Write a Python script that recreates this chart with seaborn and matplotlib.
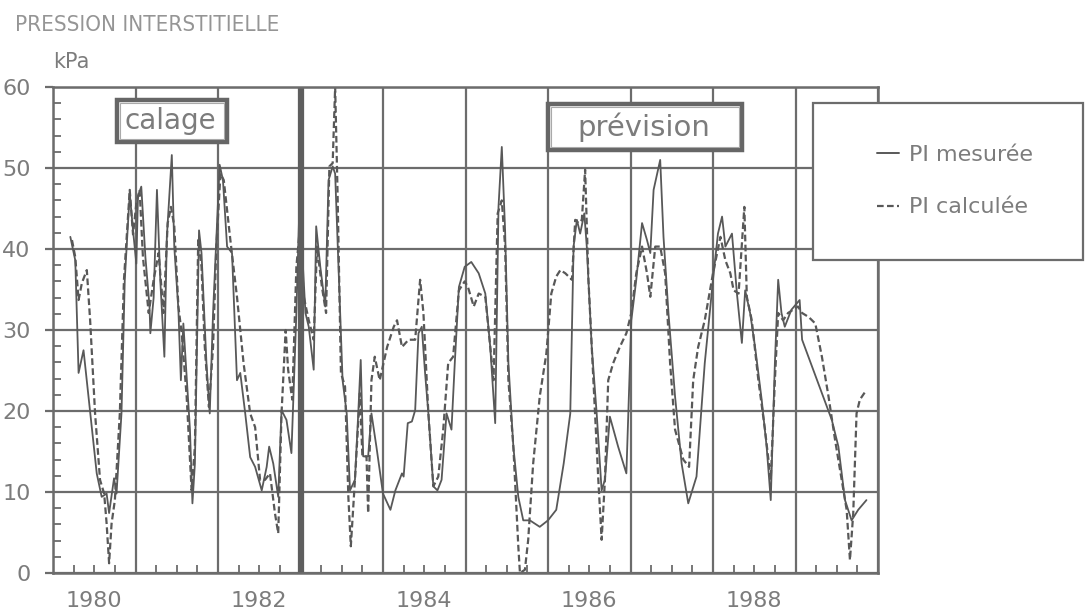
import numpy as np
import seaborn as sns
import matplotlib.pyplot as plt
from matplotlib.patches import Rectangle
from matplotlib.lines import Line2D

# PI mesurée (kPa), dates en années décimales
annees_mesure = [
    1980.21, 1980.27, 1980.31, 1980.37, 1980.53, 1980.59, 1980.65, 1980.68, 1980.74, 1980.77,
    1980.83, 1980.87, 1980.93, 1980.97, 1981.01, 1981.03, 1981.07, 1981.12, 1981.17, 1981.18,
    1981.22, 1981.26, 1981.30, 1981.35, 1981.38, 1981.44, 1981.47, 1981.52, 1981.55, 1981.58,
    1981.66, 1981.69, 1981.72, 1981.77, 1981.80, 1981.86, 1981.90, 1981.94, 1982.02, 1982.06,
    1982.11, 1982.17, 1982.23, 1982.27, 1982.33, 1982.39, 1982.45, 1982.53, 1982.59, 1982.62,
    1982.67, 1982.73, 1982.77, 1982.83, 1982.89, 1982.95, 1982.99, 1983.03, 1983.06, 1983.10,
    1983.16, 1983.19, 1983.24, 1983.30, 1983.34, 1983.39, 1983.42, 1983.51, 1983.56, 1983.60,
    1983.66, 1983.70, 1983.73, 1983.76, 1983.82, 1983.86, 1983.92, 1984.00, 1984.09, 1984.15,
    1984.23, 1984.25, 1984.30, 1984.35, 1984.39, 1984.43, 1984.47, 1984.51, 1984.55, 1984.61,
    1984.66, 1984.71, 1984.77, 1984.83, 1984.87, 1984.92, 1984.99, 1985.07, 1985.16, 1985.24,
    1985.30, 1985.36, 1985.40, 1985.44, 1985.48, 1985.52, 1985.58, 1985.64, 1985.70, 1985.78,
    1985.90, 1986.00, 1986.10, 1986.19, 1986.27, 1986.31, 1986.35, 1986.39, 1986.44, 1986.47,
    1986.53, 1986.59, 1986.65, 1986.69, 1986.75, 1986.85, 1986.95, 1987.01, 1987.07, 1987.14,
    1987.20, 1987.24, 1987.28, 1987.36, 1987.40, 1987.46, 1987.54, 1987.62, 1987.70, 1987.80,
    1987.90, 1988.00, 1988.06, 1988.11, 1988.15, 1988.23, 1988.29, 1988.35, 1988.39, 1988.45,
    1988.51, 1988.59, 1988.65, 1988.70, 1988.75, 1988.79, 1988.83, 1988.87, 1988.95, 1989.05,
    1989.08, 1989.20, 1989.32, 1989.44, 1989.52, 1989.60, 1989.68, 1989.76, 1989.86,
]
pi_mesuree = [
    41.5, 38.6, 24.7, 27.5, 12.3, 9.4, 9.8, 7.4, 11.7, 9.8,
    19.7, 36.2, 46.9, 42.3, 38.2, 46.5, 47.7, 39.0, 32.9, 29.6,
    34.0, 47.3, 36.2, 26.7, 41.5, 51.6, 40.3, 32.5, 23.8, 30.8,
    17.7, 8.6, 13.5, 42.3, 39.5, 25.9, 19.7, 32.1, 50.4, 48.5,
    40.3, 39.5, 23.8, 24.7, 19.7, 14.3, 13.1, 10.2, 13.1, 15.6,
    13.5, 9.4, 20.1, 18.9, 14.8, 32.1, 46.5, 37.8, 32.1, 30.4,
    25.1, 42.8, 37.8, 32.9, 48.5, 50.2, 49.3, 23.8, 19.7, 10.2,
    11.5, 19.7, 26.3, 14.4, 14.4, 19.7, 15.6, 9.8, 7.8, 10.2,
    12.3, 11.9, 18.5, 18.7, 20.1, 29.6, 30.4, 24.7, 19.7, 10.7,
    10.2, 11.5, 19.7, 17.7, 25.9, 35.3, 37.8, 38.4, 37.0, 34.5,
    27.9, 18.5, 45.2, 52.6, 42.3, 25.9, 15.6, 9.4, 6.5, 6.5,
    5.7, 6.5, 7.8, 13.5, 19.7, 40.3, 43.6, 41.9, 44.4, 40.3,
    27.9, 19.7, 10.2, 11.5, 19.3, 15.6, 12.3, 31.2, 36.2, 43.2,
    41.1, 39.5, 47.3, 51.0, 41.5, 32.1, 21.8, 13.5, 8.6, 11.9,
    25.9, 36.2, 41.9, 44.0, 40.3, 41.9, 34.5, 28.4, 34.9, 32.1,
    27.9, 21.4, 15.6, 9.0, 25.9, 36.2, 32.1, 30.4, 32.5, 33.7,
    28.8, 25.5, 22.2, 18.9, 15.6, 9.0, 6.5, 7.8, 9.0,
]

# PI calculée (kPa)
annees_calcul = [
    1980.23, 1980.27, 1980.31, 1980.35, 1980.41, 1980.45, 1980.51, 1980.57, 1980.62, 1980.65,
    1980.68, 1980.71, 1980.75, 1980.81, 1980.86, 1980.93, 1980.97, 1981.01, 1981.05, 1981.09,
    1981.16, 1981.22, 1981.28, 1981.34, 1981.39, 1981.43, 1981.47, 1981.52, 1981.56, 1981.62,
    1981.68, 1981.72, 1981.76, 1981.80, 1981.84, 1981.89, 1981.94, 1981.98, 1982.03, 1982.07,
    1982.15, 1982.23, 1982.31, 1982.39, 1982.45, 1982.51, 1982.57, 1982.63, 1982.69, 1982.73,
    1982.77, 1982.82, 1982.85, 1982.90, 1982.95, 1982.99, 1983.04, 1983.10, 1983.16, 1983.20,
    1983.26, 1983.31, 1983.35, 1983.39, 1983.42, 1983.45, 1983.49, 1983.54, 1983.58, 1983.61,
    1983.66, 1983.72, 1983.75, 1983.80, 1983.82, 1983.86, 1983.90, 1983.96, 1984.05, 1984.13,
    1984.17, 1984.23, 1984.31, 1984.39, 1984.45, 1984.49, 1984.55, 1984.61, 1984.67, 1984.73,
    1984.79, 1984.85, 1984.92, 1984.99, 1985.03, 1985.10, 1985.16, 1985.24, 1985.30, 1985.34,
    1985.39, 1985.44, 1985.48, 1985.52, 1985.58, 1985.64, 1985.66, 1985.72, 1985.76, 1985.82,
    1985.90, 1985.98, 1986.04, 1986.10, 1986.15, 1986.21, 1986.29, 1986.33, 1986.37, 1986.41,
    1986.45, 1986.49, 1986.55, 1986.61, 1986.65, 1986.69, 1986.73, 1986.79, 1986.87, 1986.95,
    1987.01, 1987.07, 1987.14, 1987.20, 1987.24, 1987.30, 1987.36, 1987.42, 1987.48, 1987.54,
    1987.64, 1987.71, 1987.76, 1987.82, 1987.90, 1988.00, 1988.09, 1988.15, 1988.21, 1988.25,
    1988.31, 1988.38, 1988.41, 1988.47, 1988.55, 1988.63, 1988.70, 1988.75, 1988.79, 1988.85,
    1988.91, 1988.97, 1989.03, 1989.08, 1989.16, 1989.24, 1989.32, 1989.40, 1989.48, 1989.56,
    1989.62, 1989.66, 1989.70, 1989.74, 1989.78, 1989.86,
]
pi_calculee = [
    41.1, 39.0, 33.7, 35.8, 37.4, 31.2, 19.7, 11.5, 9.8, 6.1,
    1.2, 6.1, 9.0, 19.7, 36.2, 47.3, 41.8, 45.6, 47.3, 39.0,
    32.1, 36.2, 39.5, 32.1, 43.2, 45.2, 42.8, 32.9, 29.6, 21.8,
    10.2, 15.6, 41.1, 37.8, 27.9, 20.5, 27.9, 40.3, 49.3, 48.5,
    41.1, 34.1, 25.9, 19.7, 18.0, 11.5, 11.5, 12.3, 7.4, 4.9,
    19.7, 30.0, 25.1, 21.4, 37.8, 42.3, 34.1, 31.2, 28.8, 40.3,
    35.3, 32.1, 50.2, 50.6, 60.0, 46.5, 24.7, 23.0, 9.4, 3.3,
    11.5, 22.2, 14.4, 14.4, 7.4, 23.8, 26.7, 23.8, 27.9, 30.4,
    31.2, 27.9, 28.8, 28.8, 36.2, 32.1, 19.7, 10.7, 11.9, 17.7,
    25.9, 26.7, 34.9, 36.0, 35.3, 32.9, 34.5, 34.1, 27.9, 23.8,
    44.4, 46.0, 40.3, 23.8, 15.6, 3.3, 0.0, 0.4, 4.1, 13.5,
    21.8, 27.1, 34.5, 36.6, 37.4, 37.0, 36.2, 43.6, 43.2, 43.6,
    49.8, 36.2, 23.8, 11.5, 4.1, 11.5, 23.8, 25.9, 27.9, 29.6,
    32.1, 37.0, 40.3, 37.0, 34.1, 40.3, 40.3, 37.0, 25.9, 17.7,
    14.0, 13.1, 23.8, 27.9, 31.2, 37.0, 41.5, 38.6, 37.0, 34.9,
    34.5, 45.2, 34.1, 31.2, 23.8, 17.7, 11.5, 23.8, 32.1, 31.2,
    32.1, 32.5, 32.9, 32.1, 31.6, 30.8, 26.7, 21.8, 16.4, 11.5,
    7.8, 1.6, 7.4, 19.7, 21.4, 22.6,
]

annees_grille = list(range(1980, 1991))
annees_etiquettes = [1980, 1982, 1984, 1986, 1988]
fin_calage = 1983

GRIS = '#6c6c6c'
TRAIT = '#585858'
TEXTE = '#7c7c7c'

sns.set_theme(style='white')
plt.rcParams['font.family'] = ['DejaVu Sans']

fig = plt.figure(figsize=(10.86, 6.14), dpi=100)
ax = fig.add_axes([53 / 1086, 41 / 614, 825 / 1086, 486 / 614])

sns.lineplot(x=annees_mesure, y=pi_mesuree, ax=ax, color=TRAIT, linewidth=1.3,
             sort=False, estimator=None)
sns.lineplot(x=annees_calcul, y=pi_calculee, ax=ax, color=TRAIT, linewidth=1.6,
             linestyle=(0, (3, 1.5)), sort=False, estimator=None)

ax.set_xlim(1980, 1990)
ax.set_ylim(0, 60)

# grille annuelle, graduations trimestrielles
ax.set_xticks(annees_grille)
ax.set_xticklabels([])
quarts = [a + q for a in range(1980, 1990) for q in (0.25, 0.5, 0.75)]
ax.set_xticks(quarts, minor=True)
ax.set_xticklabels([str(int(q)) if (q - 0.5) in annees_etiquettes else '' for q in quarts],
                   minor=True)
ax.set_yticks(range(0, 61, 10))
ax.set_yticks(np.arange(0, 61, 2), minor=True)

ax.grid(True, which='major', color=GRIS, linewidth=1.6)
ax.axvline(fin_calage, color='#5e5e5e', linewidth=4.5)

ax.tick_params(axis='x', which='major', direction='out', length=7, width=1.6, color=GRIS)
ax.tick_params(axis='x', which='minor', direction='in', length=6, width=1.3, color=GRIS,
               bottom=True, pad=13, labelsize=16, labelcolor=TEXTE)
ax.tick_params(axis='y', which='major', direction='out', length=6, width=1.6, color=GRIS,
               left=True, pad=10, labelsize=16, labelcolor=TEXTE)
ax.tick_params(axis='y', which='minor', direction='in', length=6, width=1.3, color=GRIS, left=True)

for s in ax.spines.values():
    s.set_color(GRIS)
    s.set_linewidth(1.8)

ax.set_xlabel('')
ax.set_ylabel('')

# cadres "calage" / "prévision" (coordonnées en fraction d'axes)
for (x0, y0, x1, y1), mot, taille in [((0.0776, 0.8868, 0.2109, 0.9733), 'calage', 20),
                                      ((0.6000, 0.8704, 0.8352, 0.9650), 'prévision', 21)]:
    ax.add_patch(Rectangle((x0, y0), x1 - x0, y1 - y0, transform=ax.transAxes,
                           fc='white', ec='#666666', lw=3.2, zorder=4))
    ax.add_patch(Rectangle((x0 + 0.004, y0 + 0.007), x1 - x0 - 0.008, y1 - y0 - 0.014,
                           transform=ax.transAxes, fc='none', ec='#aaaaaa', lw=0.8, zorder=4))
    ax.text((x0 + x1) / 2 - 0.002, (y0 + y1) / 2, mot, transform=ax.transAxes,
            ha='center', va='center', fontsize=taille, color=TEXTE, zorder=5)

ax.annotate('kPa', xy=(0, 1), xycoords='axes fraction', xytext=(0, 15),
            textcoords='offset pixels', ha='left', va='bottom', fontsize=15, color=TEXTE)
fig.text(15 / 1086, 1 - 31 / 614, 'PRESSION INTERSTITIELLE', fontsize=16,
         fontstretch='condensed', color='#959595', ha='left', va='baseline')

# légende encadrée, débordant sur l'axe droit
fig.add_artist(Rectangle((813 / 1086, 354 / 614), 270 / 1086, 157 / 614,
                         transform=fig.transFigure, fc='white', ec=GRIS, lw=1.6, zorder=3))
poignees = [Line2D([], [], color=TRAIT, lw=1.4),
            Line2D([], [], color=TRAIT, lw=1.6, linestyle=(0, (3, 1.5)))]
leg = fig.legend(poignees, ['PI mesurée', 'PI calculée'], loc='upper left',
                 bbox_to_anchor=(866 / 1086, 1 - 134 / 614), frameon=False, fontsize=16,
                 handlelength=1.0, handletextpad=0.45, labelspacing=1.45, borderpad=0,
                 labelcolor=TEXTE)
leg.set_zorder(5)

fig.savefig('out.png', dpi=100)
